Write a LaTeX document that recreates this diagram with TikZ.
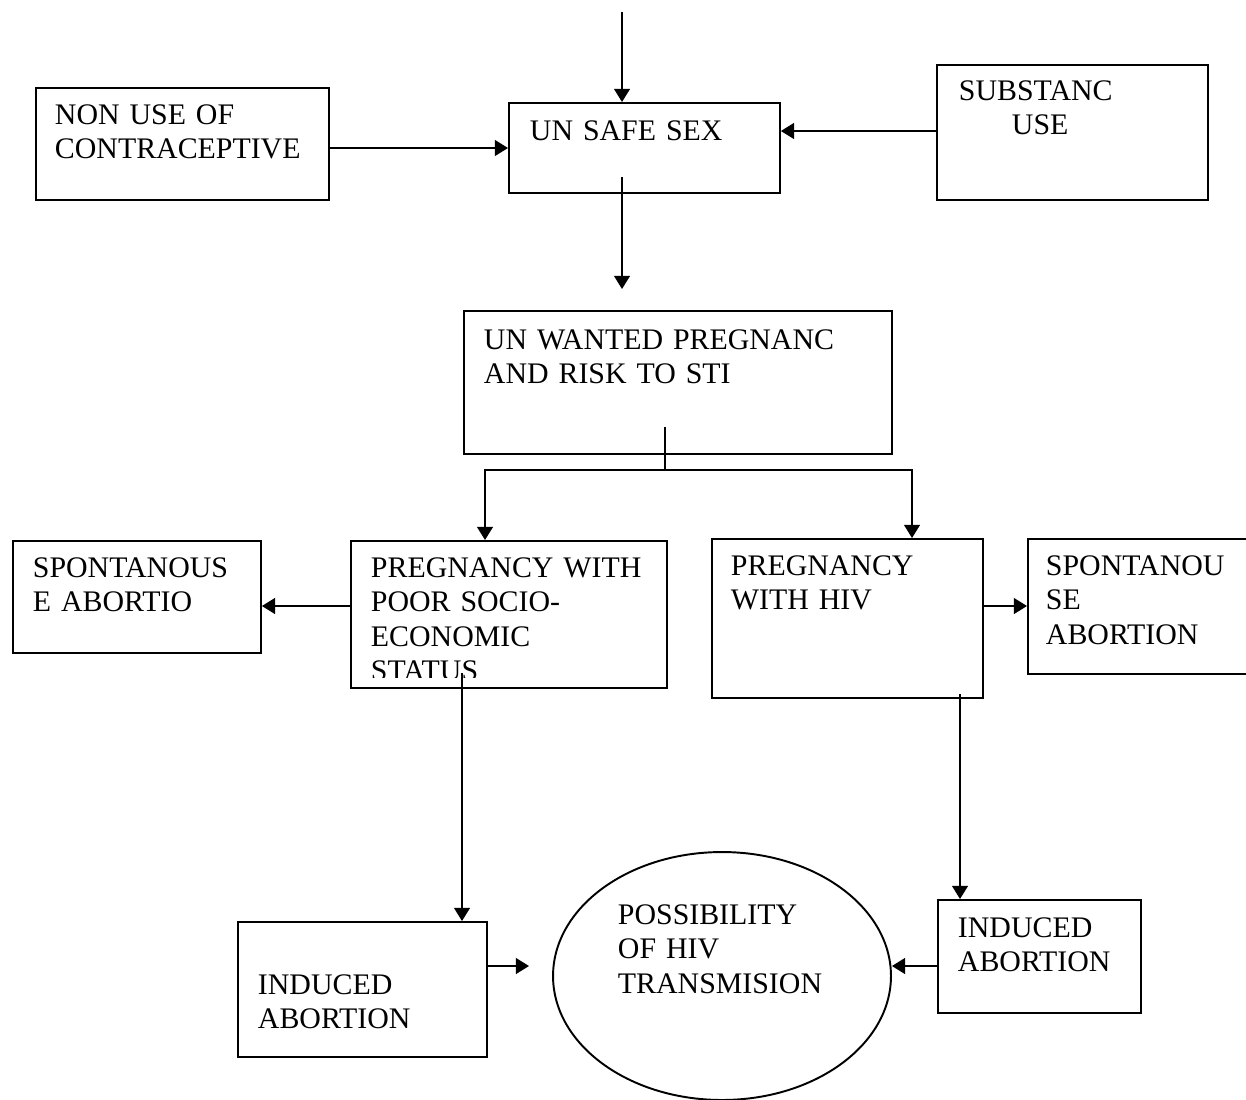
\documentclass[tikz,border=0pt]{standalone}
\usepackage{fontspec}
\setmainfont{Liberation Serif}
\usetikzlibrary{arrows.meta,shapes.geometric,positioning,calc}
\tikzset{
    box/.style={draw=black, rectangle, anchor=north west, inner sep=0pt},
    boxtext/.style={anchor=base west, inner sep=0pt, text width=9cm, align=left,
        font=\fontsize{17}{19.7}\selectfont},
    flow/.style={draw=black, -{Triangle[length=7.5pt,width=9pt]}},
    plain/.style={draw=black},
}

\begin{document}
\begin{tikzpicture}[x=0.02cm, y=-0.02cm, line width=1.1pt]
	\useasboundingbox (0,0) rectangle (1246,1099);
	% boxes
	\node[box, minimum width=5.86cm, minimum height=2.24cm] (nonuse) at (35,87) {};
	\node[box, minimum width=5.42cm, minimum height=1.80cm] (unsafe) at (508,102) {};
	\node[box, minimum width=5.42cm, minimum height=2.70cm] (subst) at (936,64) {};
	\node[box, minimum width=8.56cm, minimum height=2.86cm] (unwanted) at (463,310) {};
	\node[box, minimum width=4.96cm, minimum height=2.24cm] (spontl) at (12,540) {};
	\node[box, minimum width=6.32cm, minimum height=2.94cm] (poor) at (350,540) {};
	\node[box, minimum width=5.42cm, minimum height=3.18cm] (hiv) at (711,538) {};
	\node[box, minimum width=4.80cm, minimum height=2.70cm] (spontr) at (1027,538) {};
	\node[box, minimum width=4.98cm, minimum height=2.70cm] (indl) at (237,921) {};
	\node[box, minimum width=4.06cm, minimum height=2.26cm] (indr) at (937,899) {};
	\node[draw=black, ellipse, inner sep=0pt, minimum width=6.76cm, minimum height=4.96cm] (hivtrans) at (722,976) {};
%
	\node[boxtext] (nonuse-t) at (54,124) {NON USE OF\\CONTRACEPTIVE};
	\node[boxtext] (unsafe-t) at (529,140) {UN SAFE SEX};
	\node[boxtext] (subst-t) at (958,100) {SUBSTANC\\\hspace*{1.06cm}USE};
	\node[boxtext] (unwanted-t) at (483,349) {UN WANTED PREGNANC\\AND RISK TO STI};
	\node[boxtext] (spontl-t) at (32,577) {SPONTANOUS\\E ABORTIO};
	\begin{scope}
		\clip (350,540) rectangle (666,677);
		\node[boxtext] (poor-t) at (370,577) {PREGNANCY WITH\\POOR SOCIO-\\ECONOMIC\\STATUS};
	\end{scope}
	\node[boxtext] (hiv-t) at (730,575) {PREGNANCY\\WITH HIV};
	\node[boxtext] (spontr-t) at (1045,575) {SPONTANOU\\SE\\ABORTION};
	\node[boxtext] (indl-t) at (257,994) {INDUCED\\ABORTION};
	\node[boxtext] (indr-t) at (957,937) {INDUCED\\ABORTION};
	\node[boxtext] (hivtrans-t) at (617,924) {POSSIBILITY\\OF HIV\\TRANSMISION};
%
	\coordinate (top) at (622,12);
	\coordinate (sexout) at (622,177);
	\coordinate (sexend) at (622,289);
	\coordinate (split) at (665,427);
	\coordinate (fork) at (665,470);
	\coordinate (poorout) at (462,673);
	\coordinate (hivout) at (960,694);
	\coordinate (indlend) at (529,966);
%
	\draw[flow] (top) -- (top |- unsafe.north);
	\draw[flow] (nonuse.east |- 0,148) -- (unsafe.west |- 0,148);
	\draw[flow] (subst.west |- 0,131) -- (unsafe.east |- 0,131);
	\draw[flow] (sexout) -- (sexend);
	\draw[plain] (split) -- (fork);
	\draw[flow] (fork) -| (485,0 |- poor.north);
	\draw[flow] (fork) -| (912,0 |- hiv.north);
	\draw[flow] (poor.west |- 0,606) -- (spontl.east |- 0,606);
	\draw[flow] (hiv.east |- 0,606) -- (spontr.west |- 0,606);
	\draw[flow] (poorout) -- (poorout |- indl.north);
	\draw[flow] (hivout) -- (hivout |- indr.north);
	\draw[flow] (indl.east |- 0,966) -- (indlend);
	\draw[flow] (indr.west |- 0,966) -- (hivtrans.east |- 0,966);
\end{tikzpicture}
\end{document}
